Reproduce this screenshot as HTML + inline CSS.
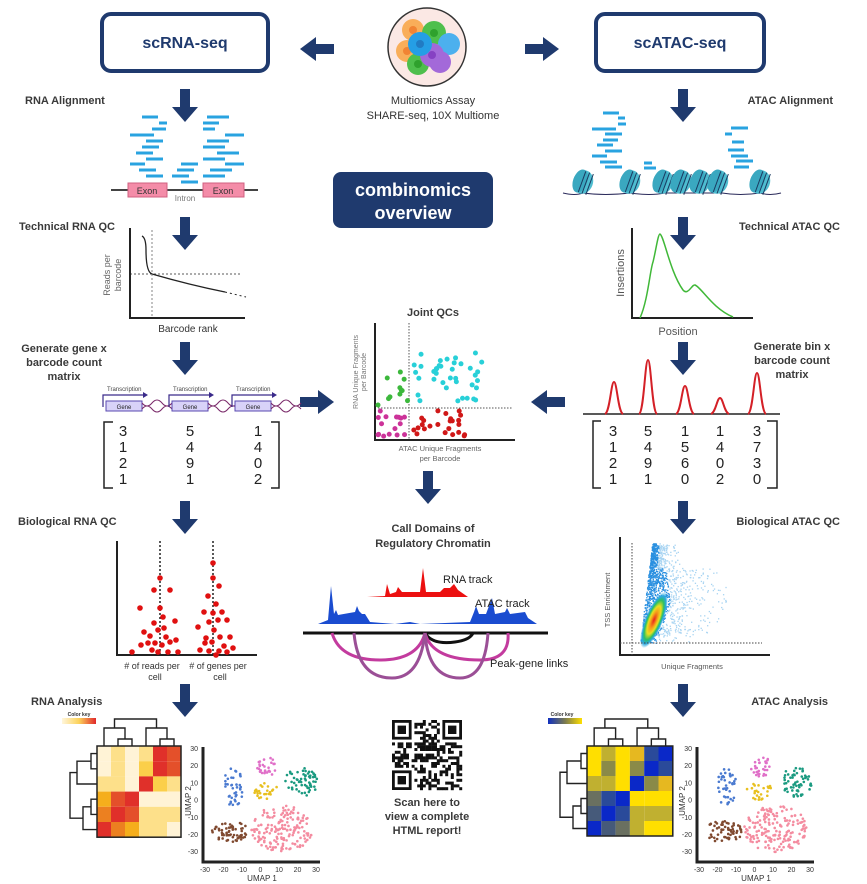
<!DOCTYPE html>
<html><head><meta charset="utf-8"><style>
html,body{margin:0;padding:0;background:#fff}
svg{display:block}
text{font-family:"Liberation Sans",sans-serif}
.lb{font-weight:bold;font-size:11px;fill:#3a3a3a}
</style></head><body>
<svg id="s" width="867" height="884" viewBox="0 0 867 884" xmlns="http://www.w3.org/2000/svg">
<defs>
<g id="ad"><rect x="-5" y="0" width="10" height="20" fill="#1f3a6e"/><polygon points="-13,18 13,18 0,33" fill="#1f3a6e"/></g>
<g id="ar"><rect x="0" y="-5" width="20" height="10" fill="#1f3a6e"/><polygon points="18,-12 18,12 34,0" fill="#1f3a6e"/></g>
<radialGradient id="dens" cx="50%" cy="50%" r="50%">
<stop offset="0" stop-color="#e8201c"/><stop offset="0.3" stop-color="#f5a21a"/><stop offset="0.5" stop-color="#e8e020"/><stop offset="0.7" stop-color="#2cc060"/><stop offset="0.85" stop-color="#2aa8e0"/><stop offset="1" stop-color="#2aa8e0" stop-opacity="0"/>
</radialGradient>
<linearGradient id="ckr"><stop offset="0" stop-color="#fff6dc"/><stop offset="0.5" stop-color="#fcd25a"/><stop offset="1" stop-color="#e0282a"/></linearGradient>
<linearGradient id="cka"><stop offset="0" stop-color="#1030c0"/><stop offset="0.5" stop-color="#7a7a50"/><stop offset="1" stop-color="#ffe000"/></linearGradient>
</defs>

<rect x="102" y="14" width="166" height="57" rx="9" fill="#fff" stroke="#1f3a6e" stroke-width="4"/>
<text x="185" y="48" text-anchor="middle" font-size="16" font-weight="bold" fill="#1f3a6e">scRNA-seq</text>
<rect x="596" y="14" width="168" height="57" rx="9" fill="#fff" stroke="#1f3a6e" stroke-width="4"/>
<text x="680" y="48" text-anchor="middle" font-size="16" font-weight="bold" fill="#1f3a6e">scATAC-seq</text>
<use href="#ar" transform="translate(334,49) scale(-1,1)"/>
<use href="#ar" transform="translate(525,49)"/>

<circle cx="427" cy="47" r="39" fill="#fbe8e4" stroke="#333" stroke-width="1.5"/>
<g opacity="0.9">
<circle cx="413" cy="30" r="11" fill="#f9a84a"/><circle cx="413" cy="30" r="4" fill="#f07a20"/>
<circle cx="407" cy="51" r="11" fill="#f9a84a"/><circle cx="407" cy="51" r="4" fill="#f07a20"/>
<circle cx="434" cy="33" r="12" fill="#3cbb3c"/><circle cx="434" cy="33" r="4" fill="#1a9a1a"/>
<circle cx="449" cy="44" r="11" fill="#3aaaf0"/>
<circle cx="418" cy="64" r="11" fill="#3cbb3c"/><circle cx="418" cy="64" r="4" fill="#1a9a1a"/>
<circle cx="440" cy="62" r="11" fill="#9a5cd8"/>
<circle cx="432" cy="55" r="12" fill="#9a5cd8"/><circle cx="432" cy="55" r="4" fill="#7a30c0"/>
<circle cx="420" cy="44" r="12" fill="#0e96e6"/><circle cx="420" cy="44" r="4" fill="#0a70c0"/>
</g>
<text x="433" y="104" text-anchor="middle" font-size="11" fill="#333">Multiomics Assay</text>
<text x="433" y="119" text-anchor="middle" font-size="11" fill="#333">SHARE-seq, 10X Multiome</text>

<rect x="333" y="172" width="160" height="56" rx="8" fill="#1f3a6e"/>
<text x="413" y="196" text-anchor="middle" font-size="18" font-weight="bold" fill="#fff">combinomics</text>
<text x="413" y="219" text-anchor="middle" font-size="18" font-weight="bold" fill="#fff">overview</text>

<text class="lb" x="25" y="104">RNA Alignment</text>
<text class="lb" x="19" y="230">Technical RNA QC</text>
<text class="lb" x="64" y="352" text-anchor="middle">Generate gene x</text>
<text class="lb" x="64" y="366" text-anchor="middle">barcode count</text>
<text class="lb" x="64" y="380" text-anchor="middle">matrix</text>
<text class="lb" x="18" y="525">Biological RNA QC</text>
<text class="lb" x="31" y="705">RNA Analysis</text>
<text class="lb" x="833" y="104" text-anchor="end">ATAC Alignment</text>
<text class="lb" x="840" y="230" text-anchor="end">Technical ATAC QC</text>
<text class="lb" x="792" y="350" text-anchor="middle">Generate bin x</text>
<text class="lb" x="792" y="364" text-anchor="middle">barcode count</text>
<text class="lb" x="792" y="378" text-anchor="middle">matrix</text>
<text class="lb" x="840" y="525" text-anchor="end">Biological ATAC QC</text>
<text class="lb" x="828" y="705" text-anchor="end">ATAC Analysis</text>
<text class="lb" x="433" y="316" text-anchor="middle">Joint QCs</text>
<text class="lb" x="433" y="532" text-anchor="middle">Call Domains of</text>
<text class="lb" x="433" y="547" text-anchor="middle">Regulatory Chromatin</text>
<text class="lb" x="427" y="806" text-anchor="middle">Scan here to</text>
<text class="lb" x="427" y="820" text-anchor="middle">view a complete</text>
<text class="lb" x="427" y="834" text-anchor="middle">HTML report!</text>

<use href="#ad" x="185" y="89"/><use href="#ad" x="185" y="217"/><use href="#ad" x="185" y="342"/><use href="#ad" x="185" y="501"/><use href="#ad" x="185" y="684"/>
<use href="#ad" x="683" y="89"/><use href="#ad" x="683" y="217"/><use href="#ad" x="683" y="342"/><use href="#ad" x="683" y="501"/><use href="#ad" x="683" y="684"/>
<use href="#ad" x="428" y="471"/>
<use href="#ar" transform="translate(300,402)"/>
<use href="#ar" transform="translate(565,402) scale(-1,1)"/>

<g id="rnareads" fill="#29a3e0"></g>
<line x1="111" y1="190" x2="258" y2="190" stroke="#444" stroke-width="2"/>
<rect x="128" y="183" width="39" height="14" fill="#f48ca8" stroke="#d06080"/>
<rect x="203" y="183" width="41" height="14" fill="#f48ca8" stroke="#d06080"/>
<text x="147" y="194" text-anchor="middle" font-size="9" fill="#333">Exon</text>
<text x="223" y="194" text-anchor="middle" font-size="9" fill="#333">Exon</text>
<text x="185" y="201" text-anchor="middle" font-size="8" fill="#777">Intron</text>

<g stroke="#222" fill="none">
<path d="M130,228 V318 H245" stroke-width="2"/>
<path d="M142,236 Q146,238 146,250 Q146,272 152,274 Q190,285 225,292" stroke-width="1.3"/>
<path d="M225,292 L246,297" stroke-dasharray="2,3"/>
<line x1="130" y1="274" x2="240" y2="274" stroke-dasharray="2,2" stroke-width="0.8"/>
<line x1="152" y1="230" x2="152" y2="318" stroke-dasharray="2,2" stroke-width="0.8" stroke="#666"/>
</g>
<text transform="translate(110,275) rotate(-90)" font-size="9" fill="#666" text-anchor="middle">Reads per</text>
<text transform="translate(121,275) rotate(-90)" font-size="9" fill="#666" text-anchor="middle">barcode</text>
<text x="188" y="332" text-anchor="middle" font-size="10" fill="#333">Barcode rank</text>

<g id="genes"></g>
<path d="M113,422 H104 V488 H113 M271,422 H279 V488 H271" stroke="#222" stroke-width="1.5" fill="none"/>
<g font-size="15" fill="#222" text-anchor="middle">
<text x="123" y="436">3</text><text x="190" y="436">5</text><text x="258" y="436">1</text>
<text x="123" y="452">1</text><text x="190" y="452">4</text><text x="258" y="452">4</text>
<text x="123" y="468">2</text><text x="190" y="468">9</text><text x="258" y="468">0</text>
<text x="123" y="484">1</text><text x="190" y="484">1</text><text x="258" y="484">2</text>
</g>

<path d="M117,541 V655 H257" stroke="#222" stroke-width="2" fill="none"/>
<line x1="160" y1="541" x2="160" y2="655" stroke="#222" stroke-dasharray="2,2" stroke-width="1.5"/>
<line x1="213" y1="541" x2="213" y2="655" stroke="#222" stroke-dasharray="2,2" stroke-width="1.5"/>
<g id="bioRNA" fill="#e01010"></g>
<text x="152" y="669" text-anchor="middle" font-size="9" fill="#333"># of reads per</text>
<text x="155" y="680" text-anchor="middle" font-size="9" fill="#333">cell</text>
<text x="218" y="669" text-anchor="middle" font-size="9" fill="#333"># of genes per</text>
<text x="220" y="680" text-anchor="middle" font-size="9" fill="#333">cell</text>

<g id="atacreads" fill="#29a3e0"></g>
<path d="M563,193 Q575,196 583,193 Q605,196 630,193 Q650,196 665,193 L722,193 Q740,196 760,193 Q770,196 781,193" stroke="#2a2a5a" fill="none" stroke-width="1"/>
<g id="nucs"></g>

<path d="M632,228 V318 H753" stroke="#222" stroke-width="2" fill="none"/>
<path d="M640,318 C648,300 650,270 653,262 C656,250 658,234 660,234 C664,236 670,272 683,290 C688,296 692,284 695,285 C702,288 712,308 733,317" stroke="#40b838" stroke-width="1.5" fill="none"/>
<text transform="translate(624,273) rotate(-90)" font-size="11" fill="#555" text-anchor="middle">Insertions</text>
<text x="678" y="335" text-anchor="middle" font-size="11" fill="#555">Position</text>

<line x1="583" y1="414" x2="780" y2="414" stroke="#222" stroke-width="1.5"/>
<g id="peaks" stroke="#d42027" stroke-width="2" fill="none"></g>
<path d="M601,421 H593 V488 H601 M767,421 H777 V488 H767" stroke="#222" stroke-width="1.5" fill="none"/>
<g font-size="15" fill="#222" text-anchor="middle">
<text x="613" y="436">3</text><text x="648" y="436">5</text><text x="685" y="436">1</text><text x="720" y="436">1</text><text x="757" y="436">3</text>
<text x="613" y="452">1</text><text x="648" y="452">4</text><text x="685" y="452">5</text><text x="720" y="452">4</text><text x="757" y="452">7</text>
<text x="613" y="468">2</text><text x="648" y="468">9</text><text x="685" y="468">6</text><text x="720" y="468">0</text><text x="757" y="468">3</text>
<text x="613" y="484">1</text><text x="648" y="484">1</text><text x="685" y="484">0</text><text x="720" y="484">2</text><text x="757" y="484">0</text>
</g>

<path d="M375,323 V440 H515" stroke="#222" stroke-width="2" fill="none"/>
<line x1="409" y1="323" x2="409" y2="440" stroke="#555" stroke-dasharray="1.5,1.5"/>
<line x1="378" y1="408" x2="513" y2="408" stroke="#555" stroke-dasharray="1.5,1.5"/>
<g id="joint"></g>
<text transform="translate(358,372) rotate(-90)" font-size="7" fill="#777" text-anchor="middle">RNA Unique Fragments</text>
<text transform="translate(366,372) rotate(-90)" font-size="7" fill="#777" text-anchor="middle">per Barcode</text>
<text x="440" y="451" text-anchor="middle" font-size="7.5" fill="#666">ATAC Unique Fragments</text>
<text x="440" y="461" text-anchor="middle" font-size="7.5" fill="#666">per Barcode</text>

<path d="M367,597 L385,596 L387,584 L390,594 L396,592 L398,587 L402,592 L420,592 L423,568 L426,592 L440,592 L444,588 L450,588 L454,584 L458,590 L468,597 Z" fill="#ec1010"/>
<path d="M318,624 L328,620 L331,586 L334,614 L336,610 L338,615 L355,612 L357,606 L359,611 L362,614 L365,614 L370,622 L395,624 L410,622 L420,624 L470,622 L474,612 L476,606 L479,614 L486,614 L492,598 L495,614 L505,612 L507,608 L510,614 L525,612 L528,618 L537,624 Z" fill="#1a4cd0"/>
<line x1="303" y1="633" x2="548" y2="633" stroke="#111" stroke-width="3"/>
<path d="M425,633 Q432,645 455,642 Q470,640 473,633" stroke="#111" stroke-width="3" fill="none"/>
<g fill="none" stroke-width="3">
<path d="M332,633 Q340,660 380,660 Q418,660 425,633" stroke="#c33b9e"/>
<path d="M425,633 Q432,660 480,660 Q510,660 508,633" stroke="#c33b9e"/>
<path d="M354,633 Q358,678 392,678 Q420,678 425,633" stroke="#9b4f96"/>
<path d="M425,633 Q428,678 460,678 Q485,678 488,633" stroke="#9b4f96"/>
</g>
<text x="443" y="583" font-size="11" fill="#222">RNA track</text>
<text x="475" y="607" font-size="11" fill="#222">ATAC track</text>
<text x="490" y="667" font-size="11" fill="#222">Peak-gene links</text>

<path d="M620,537 V655 H770" stroke="#222" stroke-width="2" fill="none"/>
<g id="atacqc"></g>
<ellipse cx="654" cy="620" rx="9" ry="30" transform="rotate(22 654 620)" fill="url(#dens)"/>
<line x1="632" y1="543" x2="632" y2="655" stroke="#444" stroke-dasharray="1.5,1.5"/>
<line x1="620" y1="643" x2="762" y2="643" stroke="#444" stroke-dasharray="1.5,1.5"/>
<text transform="translate(610,600) rotate(-90)" font-size="7.5" fill="#555" text-anchor="middle">TSS Enrichment</text>
<text x="692" y="669" text-anchor="middle" font-size="7.5" fill="#555">Unique Fragments</text>

<g id="heat"></g>
<text x="79" y="716" text-anchor="middle" font-size="5" font-weight="bold" fill="#333">Color key</text>
<rect x="62" y="718" width="34" height="6" fill="url(#ckr)"/>
<text x="562" y="716" text-anchor="middle" font-size="5" font-weight="bold" fill="#333">Color key</text>
<rect x="548" y="718" width="34" height="6" fill="url(#cka)"/>

<g id="umap"></g>
<g id="qr"></g>
</svg>
<script>
var NS="http://www.w3.org/2000/svg",S=document.getElementById('s');
function el(t,a,p){var e=document.createElementNS(NS,t);for(var k in a)e.setAttribute(k,a[k]);(p||S).appendChild(e);return e}
var seed=7;function R(){seed=(seed*16807)%2147483647;return (seed-1)/2147483646}
function gauss(){return (R()+R()+R()-1.5)/1.5}
var g=document.getElementById('rnareads');
[[142,117,16],[159,123,8],[152,129,14],[130,135,24],[146,141,17],[142,147,17],[136,153,17],[146,159,17],[130,164,15],[139,170,17],[146,176,17],
 [207,117,22],[203,123,16],[203,129,12],[225,135,19],[207,141,22],[203,147,22],[217,153,22],[203,159,22],[225,164,19],[210,170,22],[203,176,22],
 [181,164,17],[177,170,17],[172,176,17],[181,182,17]].forEach(function(r){el('rect',{x:r[0],y:r[1]-1.5,width:r[2],height:3},g)});
g=document.getElementById('atacreads');
[[603,113,16],[618,118,7],[618,124,8],[592,129,24],[605,134,17],[603,140,15],[597,145,16],[605,151,17],[592,156,15],[600,162,17],[605,167,17],
 [644,163,8],[644,168,12],[731,128,17],[725,134,7],[732,142,12],[728,150,16],[731,156,17],[736,161,17],[734,167,15]].forEach(function(r){el('rect',{x:r[0],y:r[1]-1.5,width:r[2],height:3},g)});
g=document.getElementById('nucs');
[583,630,663,681,700,718,760].forEach(function(x){var n=el('g',{transform:'translate('+x+',182) rotate(20)'},g);
 el('ellipse',{cx:0,cy:0,rx:10,ry:12,fill:'#4fbdd0'},n);
 el('ellipse',{cx:-3,cy:0,rx:7,ry:12,fill:'#3aa8c0'},n);
 [-1,3,7].forEach(function(d){el('line',{x1:d,y1:-11,x2:d,y2:11,stroke:'#1a3a60','stroke-width':1},n)});});
g=document.getElementById('genes');
[103,169,232].forEach(function(x){
 el('text',{x:x+4,y:391,'font-size':6,fill:'#444'},g).textContent='Transcription';
 el('path',{d:'M'+(x)+',407 V395 H'+(x+40),stroke:'#3a2a8a',fill:'none','stroke-width':1.2},g);
 el('polygon',{points:(x+40)+',392 '+(x+40)+',398 '+(x+45)+',395',fill:'#3a2a8a'},g);
 el('rect',{x:x+3,y:401,width:36,height:10,fill:'#d8d2f8',stroke:'#5a4ab0'},g);
 el('text',{x:x+21,y:409,'font-size':6,fill:'#222','text-anchor':'middle'},g).textContent='Gene';
 el('path',{d:'M'+(x+39)+',403 q5,6 10,0 q5,-6 10,0 q5,6 10,0 M'+(x+39)+',409 q5,-6 10,0 q5,6 10,0 q5,-6 10,0',stroke:'#7a2a6a',fill:'none','stroke-width':1},g);
});
g=document.getElementById('bioRNA');
[[160,578],[154,590],[170,590],[140,608],[160,608],[163,617],[154,623],[175,621],[144,632],[158,630],[166,637],[155,643],[148,643],[162,645],[170,642],[176,640],[152,650],[158,652],[168,652],[132,652],[178,652],[141,645],[150,636],[164,628],
 [213,563],[213,578],[219,586],[208,596],[216,604],[204,612],[213,613],[222,612],[209,622],[218,620],[227,620],[198,627],[214,630],[206,638],[220,637],[230,637],[212,642],[224,646],[200,650],[209,651],[219,651],[227,652],[233,648],[216,655],[205,643]].forEach(function(p){el('circle',{cx:p[0],cy:p[1],r:2.8},g)});
g=document.getElementById('peaks');
[[614,382],[648,360],[685,386],[720,398],[757,373]].forEach(function(p){var x=p[0],y=p[1],w=9;
 el('path',{d:'M'+(x-w)+',414 C'+(x-4)+',412 '+(x-3)+','+y+' '+x+','+y+' C'+(x+3)+','+y+' '+(x+4)+',412 '+(x+w)+',414'},g)});
g=document.getElementById('joint');
function cl(n,x0,x1,y0,y1,c){for(var i=0;i<n;i++)el('circle',{cx:x0+R()*(x1-x0),cy:y0+R()*(y1-y0),r:2.5,fill:c},g)}
cl(11,378,410,370,408,'#3cb83c');cl(38,410,482,350,405,'#28d0d8');cl(16,378,408,411,437,'#cc3399');cl(24,411,465,410,436,'#d01818');
g=document.getElementById('atacqc');
for(var i=0;i<1500;i++){var t=Math.pow(R(),0.9);var y=642-t*98;var left=640+t*12;var e=-Math.log(R()+1e-6);var span=(t<0.75?(22+ (0.5-Math.abs(t-0.4))*40):12);var x=left+e*span*0.55;if(x>728)continue;
 el('rect',{x:x,y:y+gauss()*2,width:1.3,height:1.3,fill:(x-left)<span*0.6?'#2a90e0':'#a8d4f2'},g)}
g=document.getElementById('heat');
var cr={c:'#fff3d6',l:'#fde08a',y:'#fbcf4a',o:'#f5ae1c',O:'#ec8020',e:'#e4502a',r:'#e0302a'};
var ca={Y:'#ffdf00',v:'#c0b030',o:'#8a8a48',g:'#e6b820',n:'#2a4a9a',b:'#0a28c8',s:'#465a7a',G:'#6a7060'};
function hm(x0,y0,rows,pal,cw,ch){for(var r=0;r<6;r++)for(var c=0;c<6;c++)el('rect',{x:x0+c*cw,y:y0+r*ch,width:cw,height:ch,fill:pal[rows[r][c]]||'#fff'},g);
 el('rect',{x:x0,y:y0,width:cw*6,height:ch*6,fill:'none',stroke:'#222','stroke-width':1.5},g);
 var X=function(c){return x0+c*cw+cw/2},Y=function(r){return y0+r*ch+ch/2};
 var d='';
 function U(a,b,ha,hb,h){d+=' M'+a+','+(y0-ha)+' V'+(y0-h)+' H'+b+' V'+(y0-hb);return (a+b)/2}
 var p12=U(X(1),X(2),0,0,7), t0=U(X(0),p12,0,7,18);
 var p45=U(X(4),X(5),0,0,7), t3=U(X(3),p45,0,7,18);
 U(t0,t3,18,18,27);
 function L(a,b,wa,wb,w){d+=' M'+(x0-wa)+','+a+' H'+(x0-w)+' V'+b+' H'+(x0-wb);return (a+b)/2}
 var q01=L(Y(0),Y(1),0,0,6), s2=L(q01,Y(2),6,0,20);
 var q34=L(Y(3),Y(4),0,0,6), s5=L(q34,Y(5),6,0,14);
 L(s2,s5,20,14,27);
 el('path',{d:d,stroke:'#222',fill:'none','stroke-width':1.4},g);}
hm(97,746,['clclre','clcyre','llcryl','oerccc','Orelll','rOollc'],cr,14,15.2);
hm(587,746,['YvYgnb','YoYobn','vvYbog','GnbYYY','sbnvvv','bsGvYY'],ca,14.3,15);
g=document.getElementById('umap');
function um(ox){
 el('path',{d:'M'+(ox+203)+',747 V862 H'+(ox+320),stroke:'#222','stroke-width':3,fill:'none'},g);
 var yl=[30,20,10,0,-10,-20,-30];yl.forEach(function(v,i){el('text',{x:ox+198,y:751+i*17.2,'font-size':7,fill:'#333','text-anchor':'end'},g).textContent=v});
 yl.slice().reverse().forEach(function(v,i){el('text',{x:ox+205+i*18.5,y:872,'font-size':7,fill:'#333','text-anchor':'middle'},g).textContent=v});
 el('text',{x:ox+262,y:881,'font-size':8,fill:'#333','text-anchor':'middle'},g).textContent='UMAP 1';
 el('text',{x:ox+191,y:801,'font-size':8,fill:'#333','text-anchor':'middle',transform:'rotate(-90 '+(ox+191)+' 801)'},g).textContent='UMAP 2';
 [[40,223,243,768,808,'#4a7ad0'],[30,257,278,757,777,'#e070c8'],[60,285,318,767,797,'#1a9a80'],[25,252,280,783,800,'#e8c020'],[60,212,248,820,843,'#804a30'],[170,250,313,805,852,'#f48ca0']].forEach(function(c){
  var cx=(c[1]+c[2])/2,cy=(c[3]+c[4])/2,rx=(c[2]-c[1])/2,ry=(c[4]-c[3])/2;
  for(var i=0;i<c[0];i++){var a=R()*6.283,rr=Math.sqrt(R());el('circle',{cx:ox+cx+Math.cos(a)*rx*rr,cy:cy+Math.sin(a)*ry*rr,r:1.3,fill:c[5]},g)}});
}
um(0);um(494);
g=document.getElementById('qr');
var N=25,q=70/N,X0=392,Y0=720;
el('rect',{x:X0-2,y:Y0-2,width:74,height:74,fill:'#fff'},g);
for(var r=0;r<N;r++)for(var c=0;c<N;c++){var f=(r<8&&c<8)||(r<8&&c>=N-8)||(r>=N-8&&c<8);if(!f&&R()<0.5)el('rect',{x:X0+c*q,y:Y0+r*q,width:q+0.2,height:q+0.2,fill:'#111'},g)}
[[0,0],[0,N-7],[N-7,0]].forEach(function(p){var x=X0+p[1]*q,y=Y0+p[0]*q;
 el('rect',{x:x+q/2,y:y+q/2,width:6*q,height:6*q,fill:'none',stroke:'#111','stroke-width':q},g);
 el('rect',{x:x+2*q,y:y+2*q,width:3*q,height:3*q,fill:'#111'},g)});
</script>
</body></html>
